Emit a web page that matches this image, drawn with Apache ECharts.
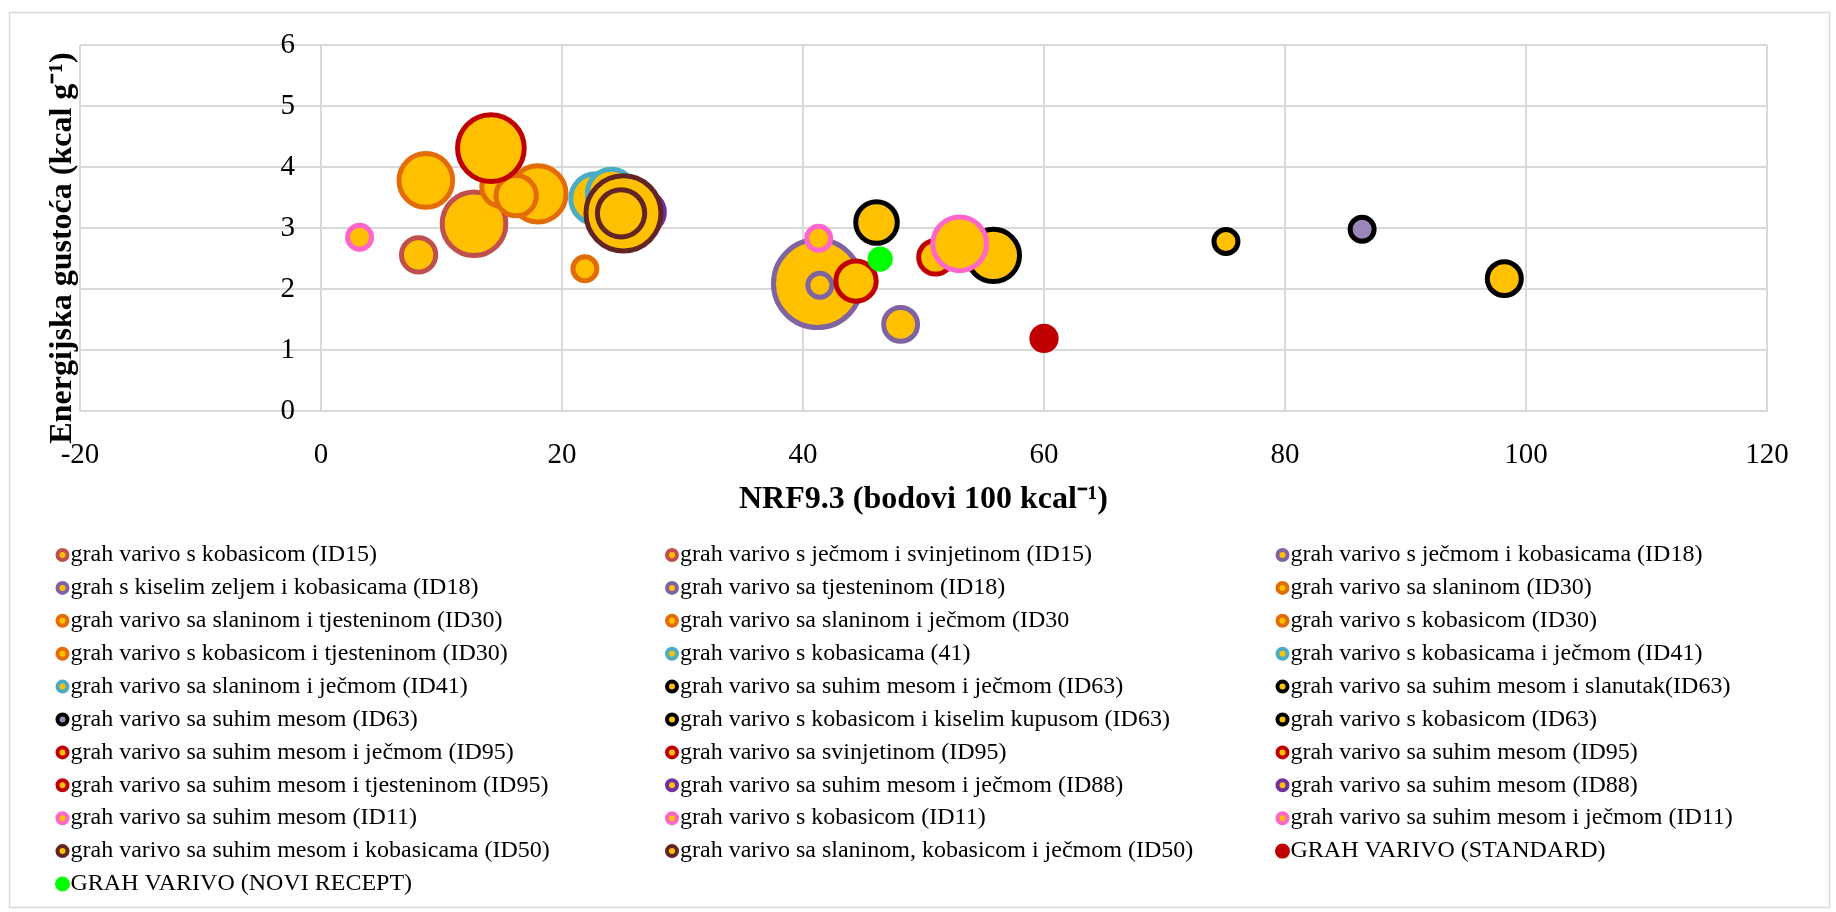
<!DOCTYPE html>
<html>
<head>
<meta charset="utf-8">
<script src="https://cdn.jsdelivr.net/npm/echarts@6/dist/echarts.min.js"></script>
<style>
html,body{margin:0;padding:0;background:#fff;}
#chart{width:1836px;height:912px;}
</style>
</head>
<body>
<div id="chart"></div>
<script>
// ---- data ----
const seriesNames = [
  'grah varivo s kobasicom (ID15)',
  'grah varivo s ječmom i svinjetinom (ID15)',
  'grah varivo s ječmom i kobasicama (ID18)',
  'grah s kiselim zeljem i kobasicama (ID18)',
  'grah varivo sa tjesteninom (ID18)',
  'grah varivo sa slaninom (ID30)',
  'grah varivo sa slaninom i tjesteninom (ID30)',
  'grah varivo sa slaninom i ječmom (ID30',
  'grah varivo s kobasicom (ID30)',
  'grah varivo s kobasicom i tjesteninom (ID30)',
  'grah varivo s kobasicama (41)',
  'grah varivo s kobasicama i ječmom (ID41)',
  'grah varivo sa slaninom i ječmom (ID41)',
  'grah varivo sa suhim mesom i ječmom (ID63)',
  'grah varivo sa suhim mesom i slanutak(ID63)',
  'grah varivo sa suhim mesom (ID63)',
  'grah varivo s kobasicom i kiselim kupusom (ID63)',
  'grah varivo s kobasicom (ID63)',
  'grah varivo sa suhim mesom i ječmom (ID95)',
  'grah varivo sa svinjetinom (ID95)',
  'grah varivo sa suhim mesom (ID95)',
  'grah varivo sa suhim mesom i tjesteninom (ID95)',
  'grah varivo sa suhim mesom i ječmom (ID88)',
  'grah varivo sa suhim mesom (ID88)',
  'grah varivo sa suhim mesom (ID11)',
  'grah varivo s kobasicom (ID11)',
  'grah varivo sa suhim mesom i ječmom (ID11)',
  'grah varivo sa suhim mesom i kobasicama (ID50)',
  'grah varivo sa slaninom, kobasicom i ječmom (ID50)',
  'GRAH VARIVO (STANDARD)',
  'GRAH VARIVO (NOVI RECEPT)'
];
// NRF9.3 (x)
const nrf = [8.1, 12.7, 41.2, 41.4, 48.1, 8.7, 15.0, 18.0, 16.2, 21.9, 22.8, 24.1, 24.6,
  46.1, 55.8, 86.4, 98.2, 75.1, 14.1, 44.4, 51.0, 53.2, 26.8, 25.6, 3.2, 41.3, 53.0, 25.1, 24.9, 60.0, 46.4];
// Energy density (y)
const energy = [2.56, 3.07, 2.09, 2.06, 1.42, 3.78, 3.68, 3.56, 3.53, 2.33, 3.48, 3.57, 3.30,
  3.09, 2.55, 2.98, 2.17, 2.78, 4.31, 2.13, 2.52, 2.72, 3.26, 3.22, 2.85, 2.83, 2.74, 3.24, 3.24, 1.19, 2.49];
// bubble size
const bubbleSize = [18.4, 63.4, 121, 9, 18, 45, 25, 49.5, 25.4, 9, 39, 36, 26,
  27, 42.7, 9, 18, 9, 69.5, 25.4, 17.7, 19, 26, 19, 9, 9, 45, 88, 35, 13.4, 10];
// group of each series
const group = ['ID15','ID15','ID18','ID18','ID18','ID30','ID30','ID30','ID30','ID30','ID41','ID41','ID41',
  'ID63','ID63','ID63x','ID63','ID63','ID95','ID95','ID95','ID95','ID88','ID88','ID11','ID11','ID11','ID50','ID50','STD','NOVI'];

// ---- styles ----
const groupStyle = {
  ID15: {border:'#C0504D', fill:'#FFC000'},
  ID18: {border:'#8064A2', fill:'#FFC000'},
  ID30: {border:'#E36C09', fill:'#FFC000'},
  ID41: {border:'#4BACC6', fill:'#FFC000'},
  ID63: {border:'#000000', fill:'#FFC000'},
  ID63x:{border:'#000000', fill:'#9B86B9'},
  ID95: {border:'#C00000', fill:'#FFC000'},
  ID88: {border:'#7030A0', fill:'#FFC000'},
  ID11: {border:'#FF66CC', fill:'#FFC000'},
  ID50: {border:'#632523', fill:'#FFC000'},
  STD:  {border:null, fill:'#C00000'},
  NOVI: {border:null, fill:'#00FF00'}
};
const FONT = '"Liberation Serif", "Times New Roman", serif';

const series = seriesNames.map((name, i) => {
  const st = groupStyle[group[i]];
  return {
    type: 'scatter',
    name: name,
    data: [[nrf[i], energy[i], bubbleSize[i]]],
    symbol: 'circle',
    symbolSize: v => 8 * Math.sqrt(v[2]),
    itemStyle: st.border
      ? {color: st.fill, borderColor: st.border, borderWidth: 5, opacity: 1}
      : {color: st.fill, borderWidth: 0, opacity: 1},
    emphasis: {disabled: true},
    animation: false
  };
});

function legendCol(col, left) {
  const data = [];
  seriesNames.forEach((n, i) => {
    if (i % 3 === col) {
      const st = groupStyle[group[i]];
      const item = {name: n};
      if (!st.border) item.itemStyle = {borderColor: st.fill, borderWidth: 5};
      data.push(item);
    }
  });
  return {
    orient: 'vertical', left: left, top: 543, height: 368, padding: 0,
    itemWidth: 10, itemHeight: 10, itemGap: 8.9, icon: 'circle',
    itemStyle: {borderWidth: 4},
    textStyle: {fontFamily: FONT, fontSize: 24, color: '#000', padding: [0,0,0,-2]},
    selectedMode: false,
    data: data
  };
}

const chart = echarts.init(document.getElementById('chart'), null, {renderer: 'canvas'});
chart.setOption({
  backgroundColor: '#ffffff',
  animation: false,
  grid: {left: 80, top: 45, width: 1687, height: 366, containLabel: false},
  xAxis: {
    type: 'value', min: -20, max: 120, interval: 20,
    axisLine: {show: true, lineStyle: {color: '#d9d9d9', width: 2}},
    axisTick: {show: false},
    axisLabel: {fontFamily: FONT, fontSize: 29, color: '#000', margin: 30},
    splitLine: {show: true, lineStyle: {color: '#d9d9d9', width: 2}},
    name: 'NRF9.3 (bodovi 100 kcal⁻¹)',
    nameLocation: 'middle', nameGap: 73,
    nameTextStyle: {fontFamily: FONT, fontSize: 32, fontWeight: 'bold', color: '#000'}
  },
  yAxis: {
    type: 'value', min: 0, max: 6, interval: 1,
    offset: -241,
    axisLine: {show: true, onZero: false, lineStyle: {color: '#d9d9d9', width: 2}},
    axisTick: {show: false},
    axisLabel: {fontFamily: FONT, fontSize: 29, color: '#000', margin: 26, padding: [5,0,0,0]},
    splitLine: {show: true, lineStyle: {color: '#d9d9d9', width: 2}}
  },
  legend: [legendCol(0, 55), legendCol(1, 665), legendCol(2, 1275)],
  graphic: [
    {type: 'rect', left: 7, top: 10, shape: {x: 0, y: 0, width: 1820, height: 895},
     style: {fill: null, stroke: '#d9d9d9', lineWidth: 1.5}, silent: true, z: -10},
    {type: 'text', x: 63, y: 248, rotation: Math.PI / 2,
     style: {text: 'Energijska gustoća (kcal g⁻¹)', font: 'bold 32px ' + FONT, fill: '#000',
             align: 'center', verticalAlign: 'middle'}, z: 100}
  ],
  series: series
});
</script>
</body>
</html>
